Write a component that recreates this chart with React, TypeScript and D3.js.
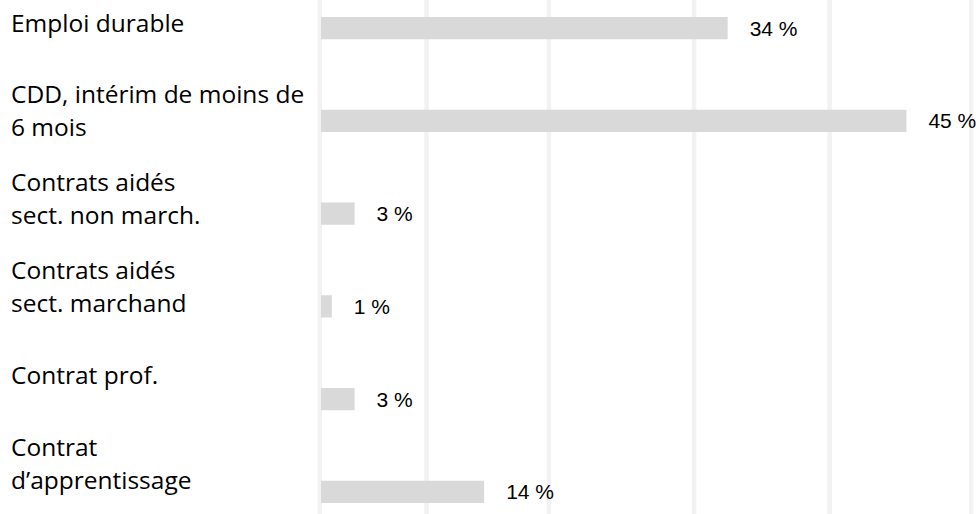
import React from "react";
import * as d3 from "d3";

// Category labels (line-broken as in the reference)
const categoryLines: string[][] = [
  ["Emploi durable"],
  ["CDD, intérim de moins de", "6 mois"],
  ["Contrats aidés", "sect. non march."],
  ["Contrats aidés", "sect. marchand"],
  ["Contrat prof."],
  ["Contrat", "d\u2019apprentissage"],
];
const categories = categoryLines.map((l) => l.join(" "));
// Bar lengths as drawn in the picture
const barValues = [33.9, 48.8, 2.8, 0.9, 2.8, 13.6];
// Value labels as printed
const valueLabels = ["34 %", "45 %", "3 %", "1 %", "3 %", "14 %"];
// Vertical gridline positions (x-domain units)
const gridValues = [-0.1, 8.8, 19.0, 31.1, 42.4, 54.2];

const W = 976;
const H = 514;

export default function App() {
  const x = d3.scaleLinear().domain([0, 54.6]).range([321, W]);
  const y = d3
    .scaleBand<string>()
    .domain(categories)
    .range([17, 503])
    .paddingInner(0.76)
    .paddingOuter(0);
  // label block midlines
  const yl = d3.scalePoint<string>().domain(categories).range([31.5, 472]);
  const bw = y.bandwidth();
  const lineH = 33;
  const labelFont = "'Open Sans', sans-serif";
  const valueFont = "'Liberation Sans', Arial, sans-serif";

  return (
    <svg
      width={W}
      height={H}
      style={{ position: "absolute", left: 0, top: 0, background: "#fff" }}
    >
      <rect x={0} y={0} width={W} height={H} fill="#ffffff" />
      {gridValues.map((g, i) => (
        <line
          key={"g" + i}
          x1={x(g)}
          x2={x(g)}
          y1={0}
          y2={H}
          stroke="#f2f2f2"
          strokeWidth={4.5}
        />
      ))}
      {categories.map((c, i) => {
        const cy = (y(c) as number) + bw / 2;
        return (
          <g key={c}>
            <rect
              x={x(0)}
              y={y(c)}
              width={x(barValues[i]) - x(0)}
              height={bw}
              fill="#d9d9d9"
            />
            <text
              x={x(barValues[i]) + 22}
              y={cy}
              dy="0.36em"
              fontFamily={valueFont}
              fontSize={21}
              fill="#000"
            >
              {valueLabels[i]}
            </text>
          </g>
        );
      })}
      {categoryLines.map((lines, i) => {
        const mid = yl(categories[i]) as number;
        const n = lines.length;
        return (
          <text
            key={"l" + i}
            x={11}
            fontFamily={labelFont}
            fontSize={24.5}
            fill="#000"
          >
            {lines.map((ln, k) => (
              <tspan key={k} x={11} y={mid + (k - (n - 1) / 2) * lineH}>
                {ln}
              </tspan>
            ))}
          </text>
        );
      })}
    </svg>
  );
}
